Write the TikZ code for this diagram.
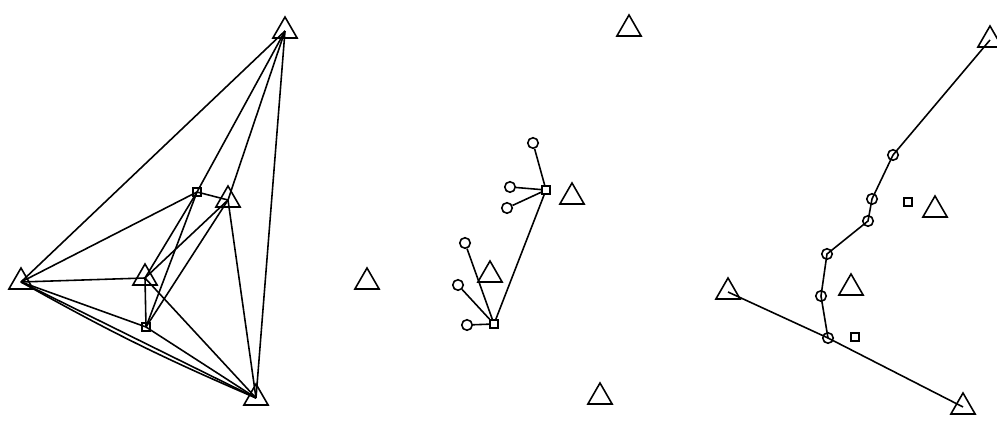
\documentclass[tikz,border=0pt]{standalone}
\usepackage{tikz}
\usetikzlibrary{shapes.geometric}
\tikzset{
  link/.style={black,line width=0.9pt},
  site/.style={draw=black,line width=0.9pt,regular polygon,regular polygon sides=3,
               minimum size=5.6mm,inner sep=0pt},
  hub/.style={draw=black,line width=1pt,rectangle,minimum size=1.6mm,inner sep=0pt},
  relay/.style={draw=black,line width=0.9pt,circle,minimum size=2.1mm,inner sep=0pt},
}

\begin{document}
\begin{tikzpicture}[x=0.2mm,y=-0.2mm]
  \path[use as bounding box] (0,0) rectangle (997,421);

  % left panel
  \node[site] (A1) at (285,31) {};
  \node[site] (A2) at (21,282) {};
  \node[site] (A3) at (145,278) {};
  \node[site] (A4) at (228,200) {};
  \node[site] (A5) at (256,398) {};
  \node[hub] (AS1) at (197,192) {};
  \node[hub] (AS2) at (146,327) {};
  \draw[link] (A2.center) -- (A1.center);
  \draw[link] (A2.center) -- (AS1.center);
  \draw[link] (A2.center) -- (A3.center);
  \draw[link] (A2.center) -- (AS2.center);
  \draw[link] (A2.center) -- (A5.center);
  \draw[link] (A2.center) to[bend right=3] (A5.center);
  \draw[link] (A1.center) -- (AS1.center);
  \draw[link] (A1.center) -- (A4.center);
  \draw[link] (A1.center) -- (A5.center);
  \draw[link] (AS1.center) -- (A4.center);
  \draw[link] (AS1.center) -- (A3.center);
  \draw[link] (AS1.center) -- (AS2.center);
  \draw[link] (A4.center) -- (A3.center);
  \draw[link] (A4.center) -- (AS2.center);
  \draw[link] (A4.center) -- (A5.center);
  \draw[link] (A3.center) -- (AS2.center);
  \draw[link] (A3.center) -- (A5.center);
  \draw[link] (AS2.center) -- (A5.center);

  % middle panel
  \node[site] (B1) at (629,29) {};
  \node[site] (B2) at (572,197) {};
  \node[site] (B3) at (490,275) {};
  \node[site] (B4) at (367,282) {};
  \node[site] (B5) at (600,397) {};
  \node[hub] (BS1) at (546,190) {};
  \node[hub] (BS2) at (494,324) {};
  \node[relay] (BC1) at (533,143) {};
  \node[relay] (BC2) at (510,187) {};
  \node[relay] (BC3) at (507,208) {};
  \node[relay] (BC4) at (465,243) {};
  \node[relay] (BC5) at (458,285) {};
  \node[relay] (BC6) at (467,325) {};
  \draw[link] (BS1) -- (BC1);
  \draw[link] (BS1) -- (BC2);
  \draw[link] (BS1) -- (BC3);
  \draw[link] (BS2) -- (BC4);
  \draw[link] (BS2) -- (BC5);
  \draw[link] (BS2) -- (BC6);
  \draw[link] (BS1) -- (BS2);

  % right panel
  \node[site] (C1) at (990,40) {};
  \node[site] (C2) at (728,292) {};
  \node[site] (C3) at (851,288) {};
  \node[site] (C4) at (935,210) {};
  \node[site] (C5) at (963,407) {};
  \node[hub] (CS1) at (908,202) {};
  \node[hub] (CS2) at (855,337) {};
  \node[relay] (CC1) at (893,155) {};
  \node[relay] (CC2) at (872,199) {};
  \node[relay] (CC3) at (868,221) {};
  \node[relay] (CC4) at (827,254) {};
  \node[relay] (CC5) at (821,296) {};
  \node[relay] (CC6) at (828,338) {};
  \draw[link] (C1.center) -- (CC1.center) -- (CC2.center) -- (CC3.center)
    -- (CC4.center) -- (CC5.center) -- (CC6.center);
  \draw[link] (C2.center) -- (CC6.center) -- (C5.center);
\end{tikzpicture}
\end{document}
